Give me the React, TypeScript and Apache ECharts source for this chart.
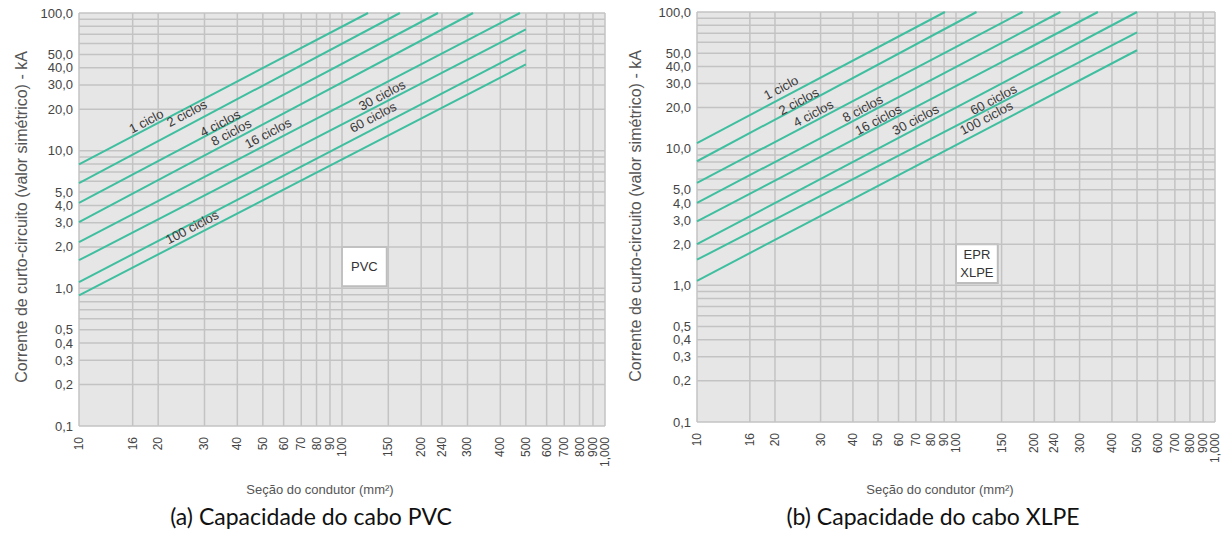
import React, { useEffect, useRef } from 'react';
import * as echarts from 'echarts';

// ---- axis ticks / grid ----
const X_GRID = [10, 16, 20, 30, 40, 50, 60, 70, 80, 90, 100, 150, 200, 240, 300, 400, 500, 600, 700, 800, 900, 1000];
const X_LABELS = ['10', '16', '20', '30', '40', '50', '60', '70', '80', '90', '100', '150', '200', '240', '300', '400', '500', '600', '700', '800', '900', '1,000'];
const Y_GRID = [0.1, 0.2, 0.3, 0.4, 0.5, 0.6, 0.7, 0.8, 0.9, 1, 2, 3, 4, 5, 6, 7, 8, 9, 10, 20, 30, 40, 50, 60, 70, 80, 90, 100];
const Y_TICKS = [0.1, 0.2, 0.3, 0.4, 0.5, 1, 2, 3, 4, 5, 10, 20, 30, 40, 50, 100];
const Y_LABELS = ['0,1', '0,2', '0,3', '0,4', '0,5', '1,0', '2,0', '3,0', '4,0', '5,0', '10,0', '20,0', '30,0', '40,0', '50,0', '100,0'];

// ---- curves (section mm², current kA) ----
const CYCLES = ['1 ciclo', '2 ciclos', '4 ciclos', '8 ciclos', '16 ciclos', '30 ciclos', '60 ciclos', '100 ciclos'];
const S_START = 10;

const PVC_START_I = [7.96, 5.82, 4.17, 3.03, 2.17, 1.6, 1.11, 0.89];
const PVC_END_S = [125.6, 166, 231.7, 315, 475, 500, 500, 500];
const PVC_END_I = [100, 100, 100, 100, 100, 76, 54, 42.3];
const PVC_LABEL_S = [18.0, 25.7, 34.4, 37.9, 52.3, 141.9, 131.2, 26.9];
const PVC_LABEL_I = [16.35, 18.7, 15.8, 13.6, 13.4, 25.3, 17.5, 2.78];

const XLPE_START_I = [11.0, 8.09, 5.62, 4.01, 2.94, 2.0, 1.54, 1.08];
const XLPE_END_S = [90.6, 120, 180.8, 253, 353, 500, 500, 500];
const XLPE_END_I = [100, 100, 100, 100, 100, 100, 71, 52.5];
const XLPE_LABEL_S = [21.1, 24.7, 28.1, 43.6, 50.1, 69.8, 139.6, 130.9];
const XLPE_LABEL_I = [27.9, 22.2, 18.1, 19.7, 16.3, 16.3, 22.9, 16.8];

const PVC_BOX = { text: 'PVC', s1: 100, i1: 2, s2: 148, i2: 1.035 };
const XLPE_BOX = { text: 'EPR\nXLPE', s1: 100, i1: 2, s2: 145, i2: 1.04 };

const TEAL = '#3fbf9f';
const GRID_COLOR = '#c3c3c3';
const FONT = '"Liberation Sans", Arial, Helvetica, sans-serif';

function chartSeries(gi: number, startI: number[], endS: number[], endI: number[], labelS: number[], labelI: number[], box: any) {
  const series: any[] = [];
  series.push({
    type: 'custom', xAxisIndex: gi, yAxisIndex: gi, z: 1, silent: true,
    data: X_GRID.map((v, i) => [v, 1, i]),
    renderItem: (params: any, api: any) => {
      const v = api.value(0);
      const i = api.value(2);
      const top = api.coord([v, 100]);
      const bot = api.coord([v, 0.1]);
      return {
        type: 'group',
        children: [
          { type: 'line', shape: { x1: top[0], y1: top[1], x2: bot[0], y2: bot[1] }, style: { stroke: GRID_COLOR, lineWidth: 1.5 } },
          { type: 'text', x: bot[0], y: bot[1] + 11, rotation: Math.PI / 2, style: { text: X_LABELS[i], fill: '#444', font: `12px ${FONT}`, align: 'right', verticalAlign: 'middle' } },
        ],
      };
    },
  });
  series.push({
    type: 'custom', xAxisIndex: gi, yAxisIndex: gi, z: 1, silent: true,
    data: Y_GRID.map((v) => [10, v]),
    renderItem: (params: any, api: any) => {
      const v = api.value(1);
      const l = api.coord([10, v]);
      const r = api.coord([1000, v]);
      return { type: 'line', shape: { x1: l[0], y1: l[1], x2: r[0], y2: r[1] }, style: { stroke: GRID_COLOR, lineWidth: 1.5 } };
    },
  });
  series.push({
    type: 'custom', xAxisIndex: gi, yAxisIndex: gi, z: 1, silent: true,
    data: Y_TICKS.map((v, i) => [10, v, i]),
    renderItem: (params: any, api: any) => {
      const p = api.coord([10, api.value(1)]);
      return { type: 'text', x: p[0] - 6, y: p[1], style: { text: Y_LABELS[api.value(2)], fill: '#444', font: `13px ${FONT}`, align: 'right', verticalAlign: 'middle' } };
    },
  });
  CYCLES.forEach((name, i) => {
    const s: any = {
      type: 'line', name, xAxisIndex: gi, yAxisIndex: gi, z: 3, silent: true,
      symbol: 'none',
      lineStyle: { color: TEAL, width: 2 },
      data: [[S_START, startI[i]], [endS[i], endI[i]]],
    };
    if (i === 0) {
      s.markArea = {
        silent: true,
        itemStyle: { color: '#ffffff', borderColor: '#bdbdbd', borderWidth: 2 },
        label: { show: true, position: 'inside', color: '#333', fontSize: 13, fontFamily: FONT, lineHeight: 18 },
        data: [[{ name: box.text, coord: [box.s1, box.i1] }, { coord: [box.s2, box.i2] }]],
      };
    }
    series.push(s);
  });
  series.push({
    type: 'custom', xAxisIndex: gi, yAxisIndex: gi, z: 4, silent: true,
    data: labelS.map((s, i) => [s, labelI[i], i]),
    renderItem: (params: any, api: any) => {
      const p = api.coord([api.value(0), api.value(1)]);
      const a = api.coord([10, 1]);
      const b = api.coord([100, 10]);
      const ang = Math.atan2(a[1] - b[1], b[0] - a[0]);
      return { type: 'text', x: p[0], y: p[1], rotation: ang, style: { text: CYCLES[api.value(2)], fill: '#3a3a3a', font: `13px ${FONT}`, align: 'center', verticalAlign: 'middle' } };
    },
  });
  return series;
}

const Y_TITLE = 'Corrente de curto-circuito (valor simétrico) - kA';
const X_TITLE = 'Seção do condutor (mm²)';

export default function App() {
  const ref = useRef<HTMLDivElement>(null);
  useEffect(() => {
    if (!ref.current) return;
    const chart = echarts.init(ref.current, null, { renderer: 'svg' });
    const axisX = (gi: number) => ({ type: 'log', logBase: 10, min: 10, max: 1000, gridIndex: gi, show: false });
    const axisY = (gi: number) => ({ type: 'log', logBase: 10, min: 0.1, max: 100, gridIndex: gi, show: false });
    chart.setOption({
      animation: false,
      backgroundColor: '#ffffff',
      grid: [
        { left: 79, top: 13, width: 526, height: 413, show: true, backgroundColor: '#e6e6e6', borderWidth: 0 },
        { left: 697, top: 12, width: 518, height: 410, show: true, backgroundColor: '#e6e6e6', borderWidth: 0 },
      ],
      xAxis: [axisX(0), axisX(1)],
      yAxis: [axisY(0), axisY(1)],
      series: [
        ...chartSeries(0, PVC_START_I, PVC_END_S, PVC_END_I, PVC_LABEL_S, PVC_LABEL_I, PVC_BOX),
        ...chartSeries(1, XLPE_START_I, XLPE_END_S, XLPE_END_I, XLPE_LABEL_S, XLPE_LABEL_I, XLPE_BOX),
      ],
      graphic: [
        { type: 'text', x: 21.5, y: 217, rotation: Math.PI / 2, style: { text: Y_TITLE, fill: '#555', font: `16px ${FONT}`, align: 'center', verticalAlign: 'middle' } },
        { type: 'text', x: 635, y: 216, rotation: Math.PI / 2, style: { text: Y_TITLE, fill: '#555', font: `16px ${FONT}`, align: 'center', verticalAlign: 'middle' } },
        { type: 'text', x: 320, y: 489, style: { text: X_TITLE, fill: '#555', font: `13px ${FONT}`, align: 'center', verticalAlign: 'middle' } },
        { type: 'text', x: 940, y: 489, style: { text: X_TITLE, fill: '#555', font: `13px ${FONT}`, align: 'center', verticalAlign: 'middle' } },
        { type: 'text', x: 311, y: 516, style: { text: '(a) Capacidade do cabo PVC', fill: '#111', font: `23px Lato, "Open Sans", sans-serif`, align: 'center', verticalAlign: 'middle' } },
        { type: 'text', x: 933, y: 516, style: { text: '(b) Capacidade do cabo XLPE', fill: '#111', font: `23px Lato, "Open Sans", sans-serif`, align: 'center', verticalAlign: 'middle' } },
      ],
    });
    return () => chart.dispose();
  }, []);
  return <div ref={ref} style={{ position: 'absolute', left: 0, top: 0, width: 1225, height: 539 }} />;
}
